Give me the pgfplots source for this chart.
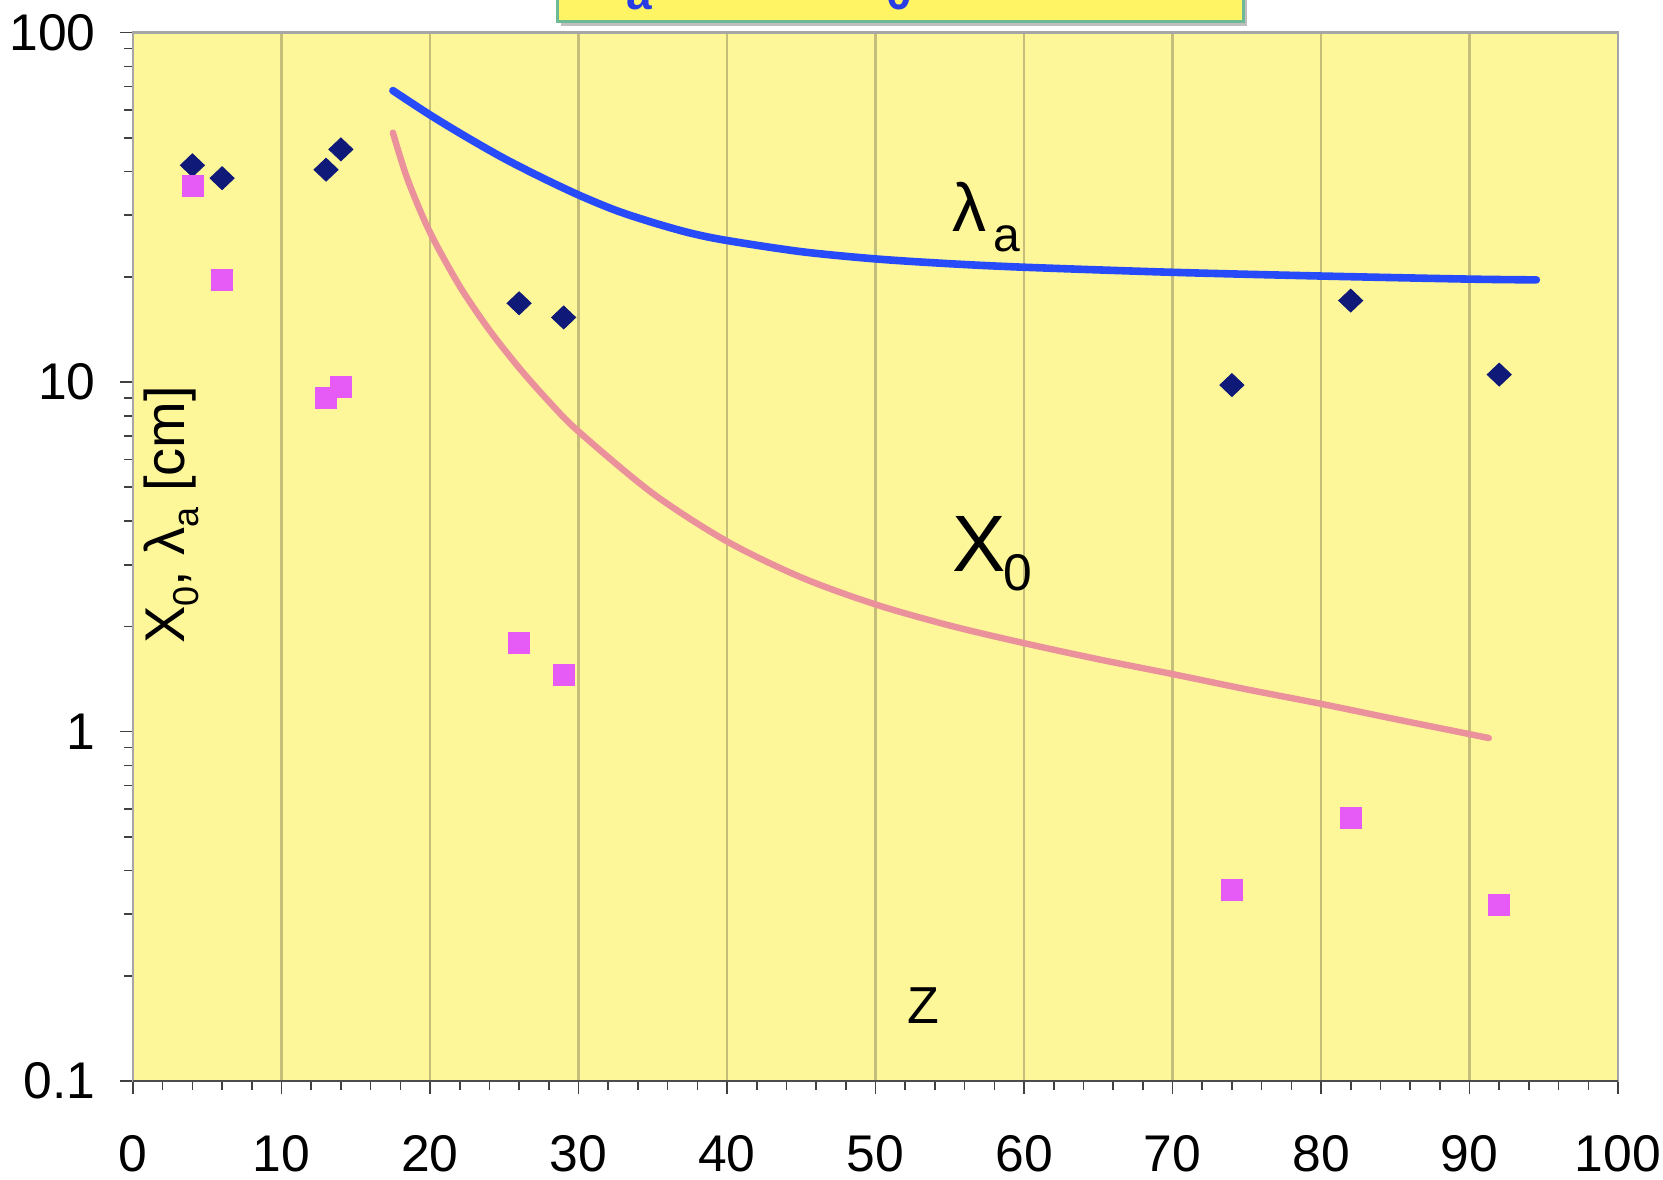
\documentclass[border=0pt]{standalone}
\usepackage{fontspec}
\setmainfont{Liberation Sans}
\usepackage{pgfplots}
\pgfplotsset{compat=1.18}
\definecolor{plotbg}{RGB}{253,247,153}
\definecolor{gridc}{RGB}{196,190,122}
\definecolor{blueline}{RGB}{40,75,250}
\definecolor{pinkline}{RGB}{235,145,155}
\definecolor{navy}{RGB}{15,25,120}
\definecolor{magc}{RGB}{230,90,245}
\definecolor{legfill}{RGB}{255,245,100}
\definecolor{legdraw}{RGB}{110,185,150}
\definecolor{legtext}{RGB}{40,60,230}
\begin{document}
\begin{tikzpicture}
\path[use as bounding box] (-66.5pt,-49pt) rectangle (765pt,540.5pt);
\clip (-66.5pt,-49pt) rectangle (765pt,540.5pt);
\begin{axis}[
  at={(0pt,0pt)}, anchor=south west,
  scale only axis, width=742.5pt, height=524.25pt,
  xmin=0, xmax=100, ymode=log, ymin=0.1, ymax=100,
  xtick={0,10,20,30,40,50,60,70,80,90,100},
  xticklabels={0,10,20,30,40,50,60,70,80,90,100},
  minor x tick num=4,
  ytick={0.1,1,10,100}, yticklabels={0.1,1,10,100},
  minor ytick={0.2,0.3,0.4,0.5,0.6,0.7,0.8,0.9,2,3,4,5,6,7,8,9,20,30,40,50,60,70,80,90},
  xmajorgrids=true, ymajorgrids=false,
  tick align=outside, xtick pos=left, ytick pos=left,
  major tick length=6.5pt, minor tick length=4.5pt,
  tick style={black!75, line width=0.8pt},
  major grid style={gridc, line width=1.3pt},
  axis line style={draw=black!35, line width=1.2pt},
  axis background/.style={fill=plotbg},
  ticklabel style={font=\fontsize{25.8}{30}\selectfont, inner sep=0pt},
  xticklabel style={anchor=north, yshift=-20.5pt},
  yticklabel style={anchor=east, xshift=-12pt},
]
\addplot[pinkline, line width=3.2pt, smooth, no marks, line cap=round] coordinates {
(17.5,51.7) (18.5,37.9) (20,26.8) (22,18.8) (24,14.08) (26,10.98) (28,8.80) (30,7.22)
(35,4.80) (40,3.50) (45,2.76) (50,2.31) (55,2.01) (60,1.79) (65,1.61) (70,1.46)
(75,1.32) (80,1.20) (85,1.085) (90,0.983) (91.3,0.958)};
\addplot[blueline, line width=3.8pt, smooth, no marks, line cap=round] coordinates {
(17.5,68.2) (20,58.1) (22.5,50.1) (25,43.6) (27.5,38.5) (30,34.3) (32.5,31.0) (35,28.6)
(37.5,26.7) (40,25.4) (45,23.6) (50,22.5) (55,21.8) (60,21.3) (70,20.6) (80,20.1) (90,19.7) (94.5,19.6)};
\addplot[only marks, mark=diamond*, mark size=5.75pt, mark options={fill=navy, draw=navy, xscale=1.4}] coordinates {
(4,41.7) (6,38.3) (13,40.5) (14,46.3) (26,16.8) (29,15.3) (74,9.8) (82,17.1) (92,10.5)};
\addplot[only marks, mark=square*, mark size=5.25pt, mark options={fill=magc, draw=magc}] coordinates {
(4,36.3) (6,19.6) (13,9.0) (14,9.7) (26,1.79) (29,1.45) (74,0.352) (82,0.567) (92,0.32)};
\draw[black!70, line width=1pt] (rel axis cs:0,0) -- (rel axis cs:1,0);
\end{axis}
% in-plot labels
\node[anchor=base west, inner sep=0pt, font=\fontsize{34}{34}\selectfont] at (409.3pt,424.6pt) {λ};
\node[anchor=base west, inner sep=0pt, font=\fontsize{24}{24}\selectfont] at (430.2pt,414.6pt) {a};
\node[anchor=base west, inner sep=0pt, font=\fontsize{40}{40}\selectfont] at (409.3pt,254.6pt) {X};
\node[anchor=base west, inner sep=0pt, font=\fontsize{25.8}{25.8}\selectfont] at (435pt,245.5pt) {0};
\node[anchor=base west, inner sep=0pt, font=\fontsize{26}{26}\selectfont] at (387pt,29pt) {Z};
\node[rotate=90, anchor=center, inner sep=0pt, font=\fontsize{28}{28}\selectfont] at (19pt,283pt)
  {X\raisebox{-0.25em}{\fontsize{18}{18}\selectfont 0}, λ\raisebox{-0.25em}{\fontsize{18}{18}\selectfont a} [cm]};
% legend box, cut by the top edge as in the reference
\fill[black!25] (214pt,527.6pt) rectangle (557pt,562pt);
\draw[legdraw, fill=legfill, line width=1.5pt] (212pt,529.6pt) rectangle (555pt,562pt);
\node[anchor=base west, inner sep=0pt, font=\bfseries\fontsize{33}{33}\selectfont, text=legtext] at (228.5pt,543pt) {λ};
\node[anchor=base west, inner sep=0pt, font=\bfseries\fontsize{23}{23}\selectfont, text=legtext] at (246.5pt,535.5pt) {a};
\node[anchor=base west, inner sep=0pt, font=\bfseries\fontsize{33}{33}\selectfont, text=legtext] at (354.5pt,543pt) {X};
\node[anchor=base west, inner sep=0pt, font=\bfseries\fontsize{23}{23}\selectfont, text=legtext] at (376.5pt,535.5pt) {0};
\end{tikzpicture}
\end{document}
